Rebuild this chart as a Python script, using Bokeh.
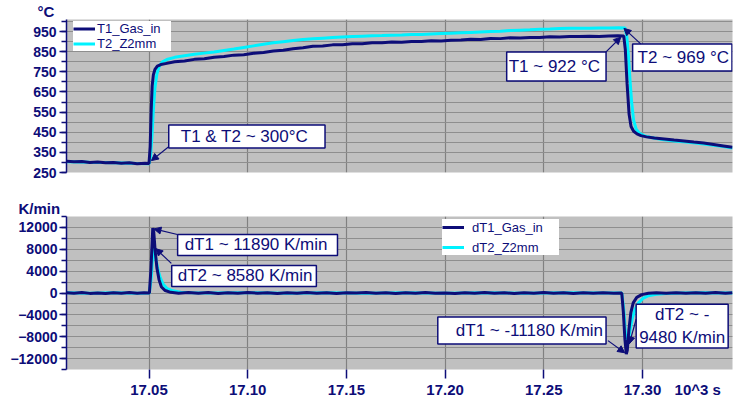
from bokeh.plotting import figure
from bokeh.layouts import column
from bokeh.models import (FixedTicker, Label, Arrow, NormalHead, Legend, LegendItem,
                          Range1d, LinearAxis, CustomJSTickFormatter, CustomLabelingPolicy)
from bokeh.embed import file_html
from bokeh.resources import INLINE

# ---------------- data (time in 10^3 s) ----------------
t1_time = [17.0082, 17.012, 17.016, 17.020, 17.024, 17.028, 17.032, 17.036, 17.040, 17.044,
           17.048, 17.0500, 17.0506, 17.0511, 17.0516, 17.0522, 17.0530, 17.0542, 17.056, 17.059,
           17.063, 17.068, 17.073, 17.078, 17.083, 17.088, 17.093, 17.098, 17.103, 17.108,
           17.113, 17.118, 17.123, 17.128, 17.133, 17.138, 17.143, 17.148, 17.153, 17.158,
           17.163, 17.168, 17.173, 17.178, 17.183, 17.188, 17.193, 17.198, 17.203, 17.208,
           17.213, 17.218, 17.223, 17.228, 17.233, 17.238, 17.243, 17.248, 17.253, 17.258,
           17.263, 17.268, 17.273, 17.278, 17.283, 17.2875, 17.2905, 17.2913, 17.2922, 17.2932,
           17.2942, 17.2955, 17.2972, 17.2992, 17.302, 17.306, 17.311, 17.316, 17.321, 17.326,
           17.331, 17.336, 17.341, 17.3456]
t1_gas_in = [306, 303, 305, 300, 302, 298, 300, 296, 298, 294,
             296, 295, 380, 560, 680, 735, 762, 778, 786, 792,
             800, 804, 812, 815, 823, 826, 833, 835, 842, 846,
             853, 857, 865, 870, 877, 878, 884, 884, 889, 889,
             894, 894, 898, 897, 901, 901, 904, 903, 907, 908,
             912, 911, 916, 915, 919, 918, 921, 921, 924, 923,
             926, 925, 927, 926, 928, 929, 928, 860, 690, 540,
             478, 455, 442, 433, 427, 421, 416, 411, 407, 401,
             396, 389, 382, 375]

t2_time = [17.0082, 17.020, 17.032, 17.044, 17.0500, 17.0508, 17.0515, 17.0522, 17.0530, 17.0540,
           17.0552, 17.0568, 17.059, 17.063, 17.068, 17.073, 17.078, 17.083, 17.088, 17.093,
           17.098, 17.103, 17.108, 17.113, 17.118, 17.123, 17.128, 17.133, 17.138, 17.143,
           17.148, 17.153, 17.158, 17.163, 17.168, 17.173, 17.178, 17.183, 17.188, 17.193,
           17.198, 17.203, 17.208, 17.213, 17.218, 17.223, 17.228, 17.233, 17.238, 17.243,
           17.248, 17.253, 17.258, 17.263, 17.268, 17.273, 17.278, 17.283, 17.288, 17.2912,
           17.2920, 17.2928, 17.2936, 17.2945, 17.2955, 17.2968, 17.2985, 17.301, 17.305, 17.310,
           17.316, 17.322, 17.328, 17.334, 17.340, 17.3456]
t2_z2mm = [304, 301, 299, 295, 294, 330, 430, 560, 670, 740,
           778, 800, 811, 822, 830, 837, 843, 849, 856, 863,
           871, 879, 887, 894, 900, 906, 911, 914, 917, 920,
           923, 925, 927, 929, 930, 932, 933, 935, 936, 938,
           940, 942, 944, 946, 948, 950, 952, 955, 957, 959,
           962, 963, 965, 966, 967, 967, 968, 968, 969, 968,
           930, 840, 720, 600, 510, 465, 445, 432, 423, 414,
           407, 401, 395, 388, 380, 372]

dt1_time = [17.0082, 17.012, 17.016, 17.020, 17.024, 17.028, 17.032, 17.036, 17.040, 17.044,
            17.0475, 17.0502, 17.0510, 17.0519, 17.0524, 17.0531, 17.0540, 17.0551, 17.0563, 17.0582,
            17.061, 17.065, 17.070, 17.075, 17.080, 17.085, 17.090, 17.095, 17.100, 17.105,
            17.110, 17.115, 17.120, 17.125, 17.130, 17.135, 17.140, 17.145, 17.150, 17.155,
            17.160, 17.165, 17.170, 17.175, 17.180, 17.185, 17.190, 17.195, 17.200, 17.205,
            17.210, 17.215, 17.220, 17.225, 17.230, 17.235, 17.240, 17.245, 17.250, 17.255,
            17.260, 17.265, 17.270, 17.275, 17.280, 17.2855, 17.2895, 17.2903, 17.2911, 17.2918,
            17.2923, 17.2931, 17.2941, 17.2953, 17.2971, 17.2996, 17.303, 17.307, 17.312, 17.317,
            17.322, 17.327, 17.332, 17.337, 17.342, 17.3456]
dt1_gas_in = [60, -40, 90, -70, 20, -90, 50, -30, 80, -60,
              40, 0, 4500, 11890, 11200, 7800, 4600, 2400, 1100, 450,
              120, -60, 80, -40, 70, -90, 30, -50, 90, -30,
              60, -80, 40, -60, 90, -40, 50, -90, 40, -20,
              80, -60, 30, -90, 60, -40, 90, -50, 20, -70,
              60, -30, 90, -60, 40, -80, 50, -30, 70, -60,
              40, -90, 60, -40, 50, -60, 0, -3500, -8500, -11180,
              -10500, -6800, -3600, -1800, -800, -300, -50, 60, -40, 50,
              -60, 40, -30, 80, -40, 30]

dt2_time = [17.0082, 17.020, 17.032, 17.044, 17.0502, 17.0512, 17.0521, 17.0527, 17.0535, 17.0545,
            17.0557, 17.0572, 17.059, 17.062, 17.066, 17.072, 17.080, 17.100, 17.120, 17.140,
            17.160, 17.180, 17.200, 17.220, 17.240, 17.260, 17.280, 17.2895, 17.2905, 17.2914,
            17.2921, 17.2928, 17.2937, 17.2948, 17.2962, 17.2980, 17.3002, 17.303, 17.307, 17.312,
            17.320, 17.330, 17.3456]
dt2_z2mm = [50, -40, 60, -50, 0, 3000, 8580, 8000, 6200, 4300,
            2800, 1600, 850, 400, 150, 30, 0, 40, -30, 50,
            -40, 30, -50, 40, -30, 50, -20, 0, -3000, -7500,
            -9480, -8800, -6800, -4700, -3000, -1800, -1000, -500, -220, -80,
            0, 30, 0]

x_ticks = [17.05, 17.10, 17.15, 17.20, 17.25, 17.30]
x_unit = "10^3 s"
top_ticks = [250, 350, 450, 550, 650, 750, 850, 950]
top_minor = [250, 300, 350, 400, 450, 500, 550, 600, 650, 700, 750, 800, 850, 900, 950, 1000]
bot_ticks = [-12000, -8000, -4000, 0, 4000, 8000, 12000]
bot_minor = [-14000, -12000, -10000, -8000, -6000, -4000, -2000, 0, 2000, 4000, 6000,
             8000, 10000, 12000, 14000]

# ---------------- style ----------------
NAVY = "#0d0d78"
CYAN = "#00f2ff"
BG = "#c0c0c0"
GRID = "#8e8e8e"
VGRID = "#808080"
FONT = "Liberation Sans"
X0, X1 = 17.0082, 17.3456
X_UNIT_POS = 17.3280   # centre of the "10^3 s" unit text


def style(p, ticks, minor):
    p.background_fill_color = BG
    p.border_fill_color = "white"
    p.outline_line_color = None
    p.xaxis.ticker = FixedTicker(ticks=x_ticks, minor_ticks=[])
    p.xgrid.ticker = FixedTicker(ticks=x_ticks, minor_ticks=[])
    p.xgrid.grid_line_color = VGRID
    p.xgrid.grid_line_width = 1.2
    yt = FixedTicker(ticks=ticks, minor_ticks=minor)
    p.yaxis.ticker = yt
    p.ygrid.ticker = yt
    p.ygrid.grid_line_color = GRID
    p.ygrid.minor_grid_line_color = GRID
    p.ygrid.grid_line_width = 1
    p.ygrid.minor_grid_line_width = 1
    ax = p.yaxis[0]
    ax.axis_line_color = NAVY
    ax.axis_line_width = 1.5
    ax.major_tick_line_color = NAVY
    ax.minor_tick_line_color = NAVY
    ax.major_tick_line_width = 1.5
    ax.minor_tick_line_width = 1.5
    ax.major_tick_in = 0
    ax.minor_tick_in = 0
    ax.major_tick_out = 7
    ax.minor_tick_out = 5
    ax.major_label_standoff = 3
    ax.major_label_text_font = FONT
    ax.major_label_text_font_style = "bold"
    ax.major_label_text_font_size = "14px"
    ax.major_label_text_color = NAVY


def unit_title(p, text, offset):
    t = p.title
    t.text = text
    t.align = "left"
    t.offset = offset
    t.standoff = 0
    t.text_font = FONT
    t.text_font_size = "15px"
    t.text_font_style = "bold"
    t.text_color = NAVY


def box_label(p, x, y, text, pad, align="left"):
    # x is the left edge of the box (or its centre when align="center")
    p.add_layout(Label(x=x, y=y, text=text, text_align=align, text_baseline="middle",
                       text_font=FONT, text_font_size="17px", text_color=NAVY,
                       background_fill_color="white", border_line_color=NAVY,
                       border_line_width=1.5,
                       padding=dict(left=pad[0], right=pad[1], top=pad[2], bottom=pad[3])))


def arrow(p, xs, ys, xe, ye):
    p.add_layout(Arrow(end=NormalHead(size=7, fill_color=NAVY, line_color=NAVY, line_width=1),
                       x_start=xs, y_start=ys, x_end=xe, y_end=ye,
                       line_color=NAVY, line_width=1.2))


# ---------------- top chart ----------------
top = figure(width=746, height=195, x_range=Range1d(X0, X1), y_range=Range1d(250, 1010),
             output_backend="svg", toolbar_location=None,
             min_border_left=66, min_border_right=14, min_border_top=17, min_border_bottom=23)
style(top, top_ticks, top_minor)
top.xaxis.visible = False
unit_title(top, "°C", -29)

r_t2 = top.line(t2_time, t2_z2mm, line_color=CYAN, line_width=3)
r_t1 = top.line(t1_time, t1_gas_in, line_color=NAVY, line_width=3)

leg_top = Legend(items=[LegendItem(label="T1_Gas_in", renderers=[r_t1]),
                        LegendItem(label="T2_Z2mm", renderers=[r_t2])],
                 location=(7, 121), padding=5, spacing=0, margin=0,
                 glyph_width=22, glyph_height=13, label_height=13, label_width=74,
                 label_standoff=2, label_text_font=FONT, label_text_font_size="13px",
                 label_text_color=NAVY, border_line_color=None,
                 background_fill_color="white", background_fill_alpha=1)
top.add_layout(leg_top)

box_label(top, 17.0600, 429, "T1 & T2 ~ 300°C", (12, 17, 2, 2))
arrow(top, 17.0598, 377, 17.0512, 309)
box_label(top, 17.2312, 777, "T1 ~ 922 °C", (2, 6, 5, 5))
arrow(top, 17.2814, 848, 17.2890, 922)
box_label(top, 17.2950, 821, "T2 ~ 969 °C", (5, 3, 4, 4))
arrow(top, 17.2991, 889, 17.2906, 966)

# ---------------- bottom chart ----------------
bot = figure(width=746, height=205, x_range=top.x_range, y_range=Range1d(-14000, 14000),
             output_backend="svg", toolbar_location=None,
             min_border_left=66, min_border_right=14, min_border_top=21, min_border_bottom=29)
style(bot, bot_ticks, bot_minor)
unit_title(bot, "K/min", -48)

# axis 1 (next to the frame): tick marks only, its labels are not drawn
xa = bot.xaxis[0]
xa.axis_line_color = None
xa.major_tick_line_color = NAVY
xa.major_tick_line_width = 1.5
xa.major_tick_in = 0
xa.major_tick_out = 9
xa.minor_tick_line_color = None
xa.major_label_standoff = 0
xa.major_label_text_font_size = "0px"
xa.major_label_policy = CustomLabelingPolicy(
    code="for (const i of indices) { indices.unset(i) } return indices;")

# axis 2 (below it): tick labels plus the unit text
xb = LinearAxis(ticker=FixedTicker(ticks=x_ticks + [X_UNIT_POS], minor_ticks=[]),
                formatter=CustomJSTickFormatter(
                    args=dict(unit=x_unit),
                    code="return tick > 17.31 ? unit : tick.toFixed(2);"),
                axis_line_color=None, major_tick_line_color=None, minor_tick_line_color=None,
                major_tick_in=0, major_tick_out=0, major_label_standoff=2,
                major_label_text_font=FONT, major_label_text_font_style="bold",
                major_label_text_font_size="15px", major_label_text_color=NAVY)
bot.add_layout(xb, "below")
bot.yaxis[0].major_label_standoff = 2

r_d2 = bot.line(dt2_time, dt2_z2mm, line_color=CYAN, line_width=3)
r_d1 = bot.line(dt1_time, dt1_gas_in, line_color=NAVY, line_width=3)

leg_bot = Legend(items=[LegendItem(label="dT1_Gas_in", renderers=[r_d1]),
                        LegendItem(label="dT2_Z2mm", renderers=[r_d2])],
                 location=(376, 114), padding=3, spacing=4, margin=0,
                 glyph_width=22, glyph_height=16, label_height=16, label_width=87,
                 label_standoff=8, label_text_font=FONT, label_text_font_size="13px",
                 label_text_color=NAVY, border_line_color=None,
                 background_fill_color="white", background_fill_alpha=1)
bot.add_layout(leg_bot)

box_label(bot, 17.0645, 8807, "dT1 ~ 11890 K/min", (7, 10, 1, 1))
arrow(bot, 17.0644, 10700, 17.0525, 11728)
box_label(bot, 17.0615, 3128, "dT2 ~ 8580 K/min", (6, 4, 1, 1))
arrow(bot, 17.0613, 5418, 17.0534, 8122)
box_label(bot, 17.1963, -6878, "dT1 ~ -11180 K/min", (18, 3, 4, 4))
arrow(bot, 17.2825, -8717, 17.2910, -10935)
box_label(bot, 17.3201, -6067, "dT2 ~ -\n9480 K/min", (3, 3, 1, 1), align="center")
arrow(bot, 17.2968, -4805, 17.2933, -9312)

layout = column(top, bot, spacing=0)
open("out.html", "w").write(file_html(layout, INLINE))
